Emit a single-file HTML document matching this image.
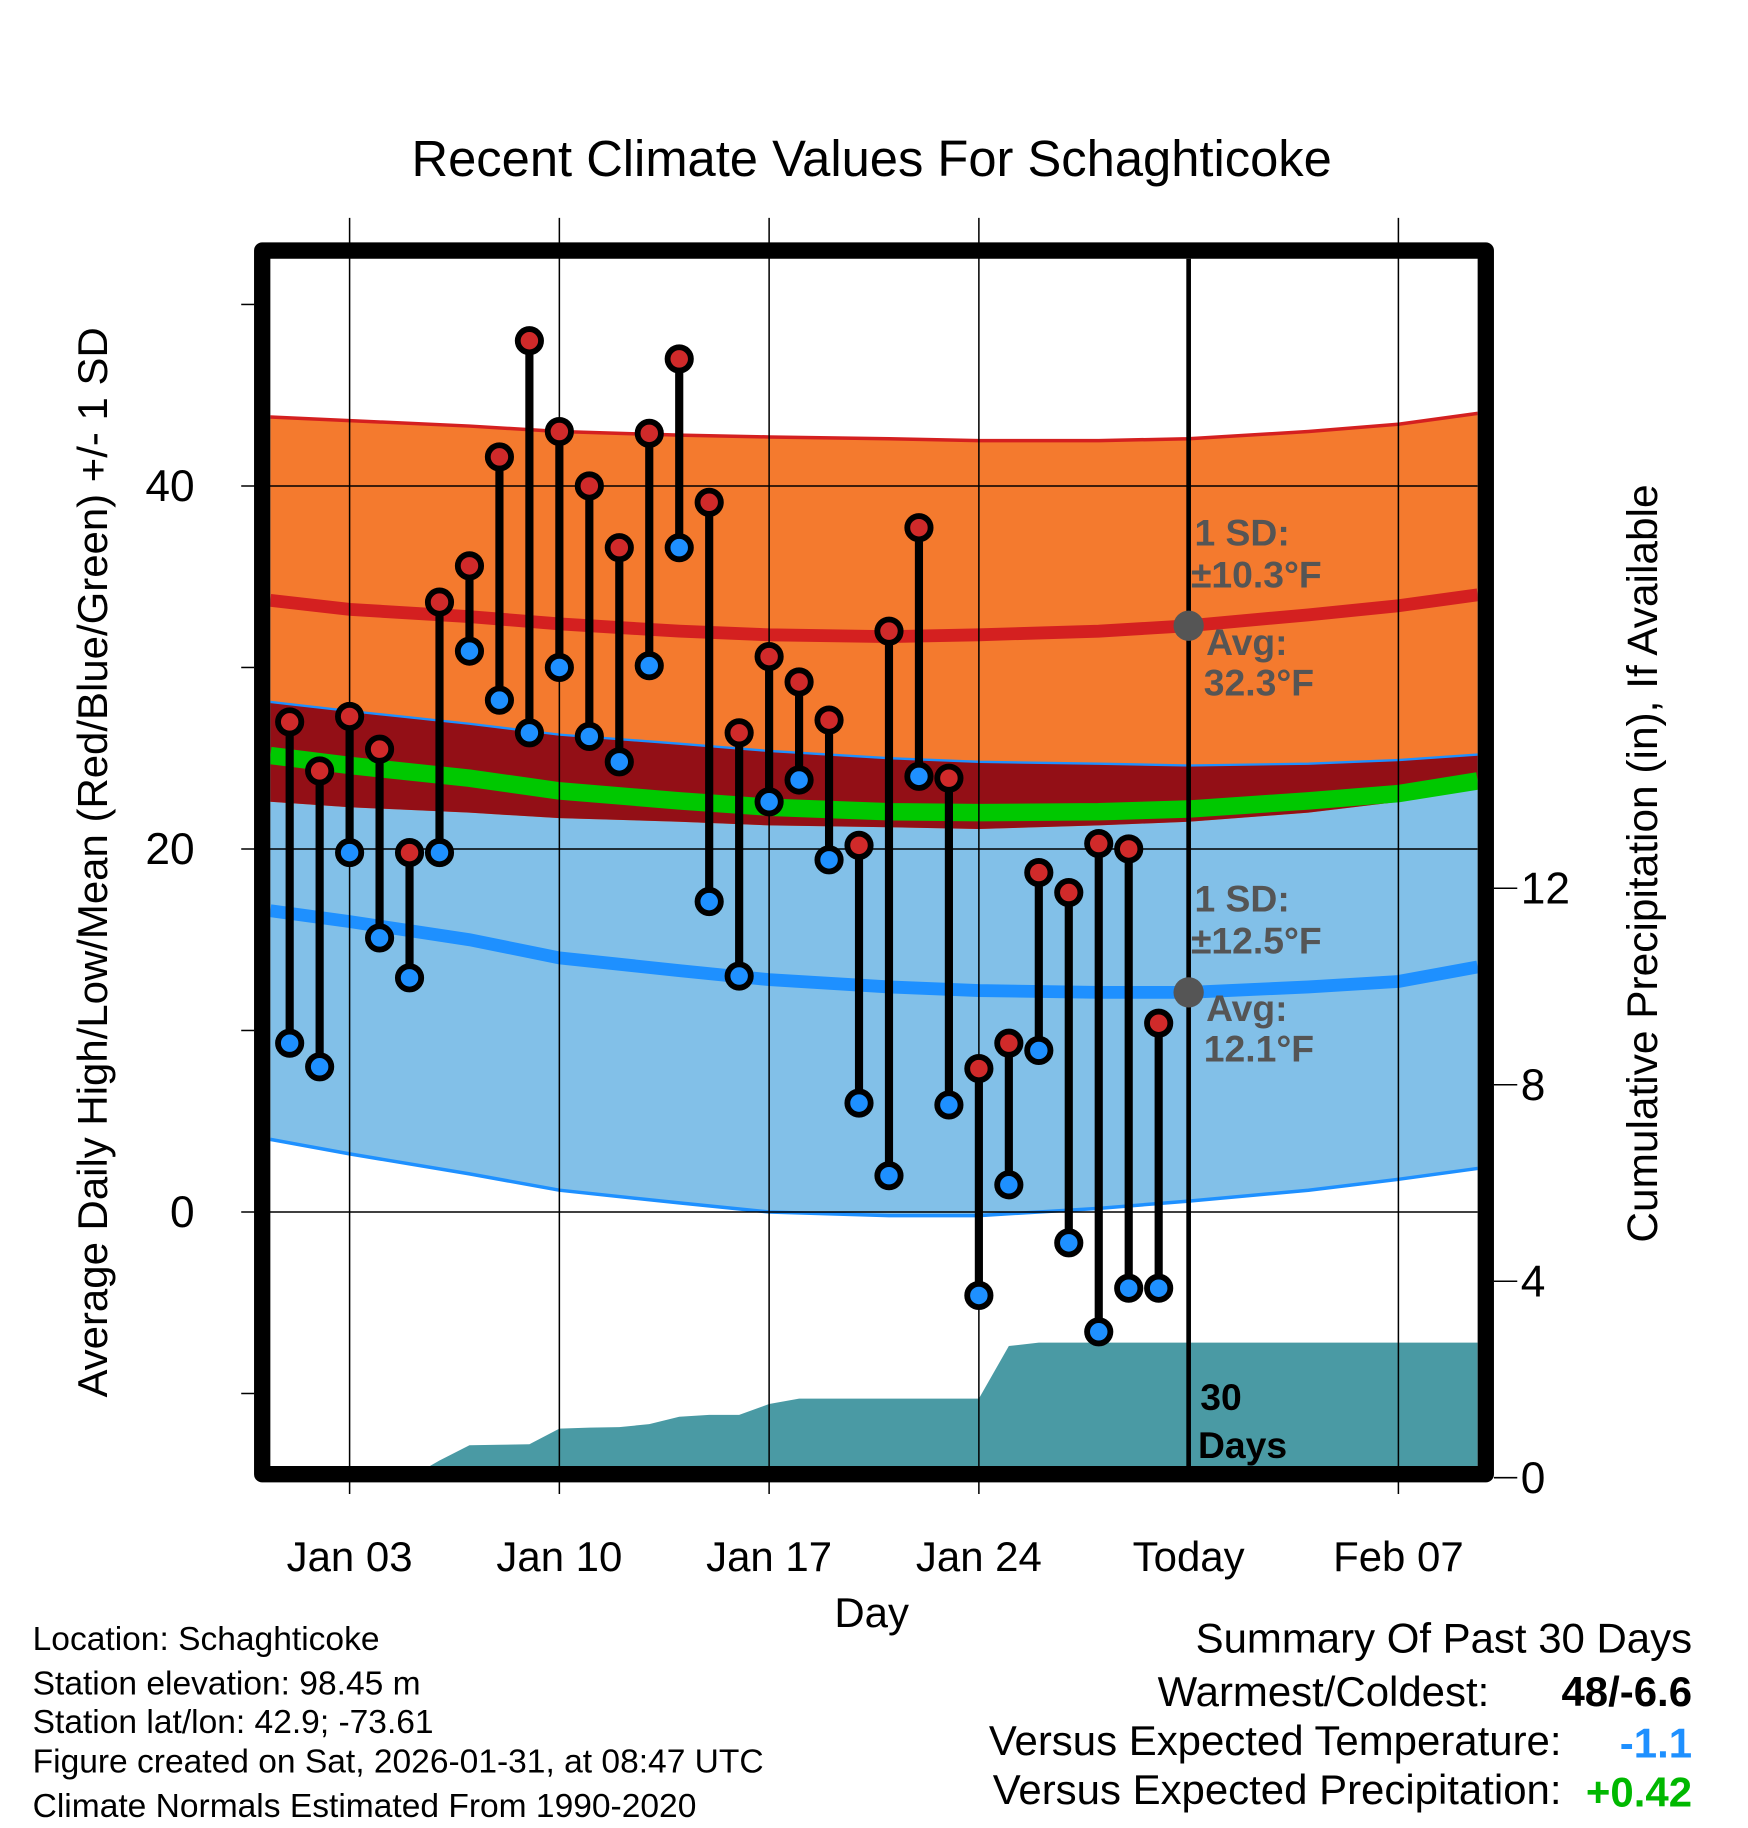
<!DOCTYPE html>
<html><head><meta charset="utf-8"><style>html,body{margin:0;padding:0;background:#fff}svg{display:block}</style></head>
<body>
<svg id="chart" width="1748" height="1828" viewBox="0 0 1500 1568.6" preserveAspectRatio="none" xmlns="http://www.w3.org/2000/svg" font-family="Liberation Sans, sans-serif">
<g id="layer"></g>
</svg>
<script>
// ---- data ----
const days = [1,2,3,4,5,6,7,8,9,10,11,12,13,14,15,16,17,18,19,20,21,22,23,24,25,26,27,28,29,30];
const highs = [27,24.3,27.3,25.5,19.8,33.6,35.6,41.6,48,43,40,36.6,42.9,47,39.1,26.4,30.6,29.2,27.1,20.2,32,37.7,23.9,7.9,9.3,18.7,17.6,20.3,20,10.4];
const lows = [9.3,8,19.8,15.1,12.9,19.8,30.9,28.2,26.4,30,26.2,24.8,30.1,36.6,17.1,13,22.6,23.8,19.4,6,2,24,5.9,-4.6,1.5,8.9,-1.7,-6.6,-4.2,-4.2];
const normDays = [0,3,7,10,14,17,21,24,28,31,35,38,41];
const normHigh = [33.7,33.2,32.8,32.4,32.0,31.8,31.7,31.8,32.0,32.3,32.9,33.4,34.0];
const highUpper = [43.8,43.6,43.3,43.0,42.8,42.7,42.6,42.5,42.5,42.6,43.0,43.4,44.0];
const highLower = [22.6,22.3,22.0,21.7,21.5,21.3,21.2,21.1,21.3,21.5,22.0,22.6,23.3];
const normLow = [16.6,16.0,15.0,14.0,13.3,12.8,12.4,12.2,12.1,12.1,12.4,12.7,13.5];
const lowUpper = [28.1,27.6,26.9,26.3,25.8,25.4,25.0,24.8,24.7,24.6,24.7,24.9,25.2];
const lowLower = [4.0,3.2,2.1,1.2,0.5,0.0,-0.2,-0.2,0.2,0.6,1.2,1.8,2.4];
const precipDays = [0,5,6,7,8,9,10,11,12,13,14,15,16,17,18,19,20,21,22,23,24,25,26,27,28,29,30,31,41];
const precipCum = [0,0,0.35,0.66,0.67,0.68,1.0,1.02,1.03,1.09,1.24,1.28,1.28,1.5,1.61,1.61,1.61,1.61,1.61,1.61,1.61,2.68,2.75,2.75,2.75,2.75,2.75,2.75,2.75];
const xTickDays = [3,10,17,24,31,38];
const xTickLabels = ["Jan 03","Jan 10","Jan 17","Jan 24","Today","Feb 07"];
const yTicks = [0,20,40];
const yMinor = [-10,10,30,50];
const pTicks = [0,4,8,12];

// ---- axes ----
const L=232,R=1268,T=222,B=1260;
const X = d => 300 + (d-3)*180/7;
const Y = v => 1040 - v*15.575;
const P = v => 1268 - v*42.15;
const NS="http://www.w3.org/2000/svg";
const g=document.getElementById('layer');
function el(tag,attrs,parent){const e=document.createElementNS(NS,tag);for(const k in attrs)e.setAttribute(k,attrs[k]);(parent||g).appendChild(e);return e;}
function txt(s,attrs){const e=el('text',attrs);e.textContent=s;return e;}
const cl=v=>Math.max(L,Math.min(R,v));
function line(arr){return normDays.map((d,i)=>cl(X(d))+','+Y(arr[i])).join(' ');}
function band(a,b){return normDays.map((d,i)=>cl(X(d))+','+Y(a[i])).concat(normDays.slice().reverse().map((d,i)=>cl(X(d))+','+Y(b[b.length-1-i]))).join(' ');}

el('defs',{}).innerHTML='<clipPath id="pc"><rect x="232" y="222" width="1036" height="1038"/></clipPath>';
const pg=el('g',{'clip-path':'url(#pc)'});

let e;
e=el('polygon',{points:band(lowUpper,lowLower),fill:'#82c0e8'},pg);

e=el('polygon',{points:band(highUpper,highLower),fill:'#f47a2e'},pg);

e=el('polygon',{points:band(lowUpper,highLower),fill:'#930f16'},pg);

const mean=normHigh.map((h,i)=>(h+normLow[i])/2);
e=el('polyline',{points:line(mean),fill:'none',stroke:'#00c800','stroke-width':15},pg);

el('polyline',{points:line(highUpper),fill:'none',stroke:'#d42020','stroke-width':3},pg);
el('polyline',{points:line(lowUpper),fill:'none',stroke:'#1e90ff','stroke-width':2},pg);
el('polyline',{points:line(lowLower),fill:'none',stroke:'#1e90ff','stroke-width':3},pg);
e=el('polyline',{points:line(normHigh),fill:'none',stroke:'#d42020','stroke-width':11},pg);

e=el('polyline',{points:line(normLow),fill:'none',stroke:'#1e90ff','stroke-width':11},pg);


// precipitation area
const pp=[cl(X(precipDays[0]))+','+P(0)].concat(precipDays.map((d,i)=>cl(X(d))+','+P(precipCum[i]))).concat([R+','+P(0)]).join(' ');
e=el('polygon',{points:pp,fill:'#4a9aa4'},pg);


// grid
xTickDays.forEach(d=>{if(d!==31)el('line',{x1:X(d),x2:X(d),y1:187,y2:1282,stroke:'#000','stroke-width':1.3});});
yTicks.forEach(v=>el('line',{x1:207,x2:R,y1:Y(v),y2:Y(v),stroke:'#000','stroke-width':1.3}));
yMinor.forEach(v=>el('line',{x1:207,x2:218,y1:Y(v),y2:Y(v),stroke:'#000','stroke-width':1.3}));
pTicks.forEach(v=>el('line',{x1:1282,x2:1302,y1:P(v),y2:P(v),stroke:'#000','stroke-width':1.3}));
e=el('line',{x1:X(31),x2:X(31),y1:T,y2:B,stroke:'#000','stroke-width':4});


// stems & markers
days.forEach((d,i)=>{
  const x=X(d);
  el('line',{x1:x,x2:x,y1:Y(highs[i]),y2:Y(lows[i]),stroke:'#000','stroke-width':7});
});
days.forEach((d,i)=>{
  const x=X(d);
  let c=el('circle',{cx:x,cy:Y(highs[i]),r:10,fill:'#d02a2a',stroke:'#000','stroke-width':5});
  
  
  c=el('circle',{cx:x,cy:Y(lows[i]),r:10,fill:'#1e90ff',stroke:'#000','stroke-width':5});
  
  
});

// annotations
el('circle',{cx:X(31),cy:Y(normHigh[9]),r:13,fill:'#555'});
el('circle',{cx:X(31),cy:Y(normLow[9]),r:13,fill:'#555'});
const an={fill:'#555','font-size':32,'font-weight':'bold'};
[["1 SD:",1025,468],["±10.3°F",1022,504],["Avg:",1035,562],["32.3°F",1033,597],["1 SD:",1025,782],["±12.5°F",1022,818],["Avg:",1035,876],["12.1°F",1033,911]].forEach(a=>{
  e=txt(a[0],Object.assign({x:a[1],y:a[2]},an));
  
});
txt("30",{x:1030,y:1210,'font-size':32,'font-weight':'bold'});
txt("Days",{x:1028,y:1251,'font-size':32,'font-weight':'bold'});

// frame
e=el('rect',{x:225,y:215,width:1050,height:1050,fill:'none',stroke:'#000','stroke-width':14,'stroke-linejoin':'round'});


// tick labels
xTickDays.forEach((d,i)=>{e=txt(xTickLabels[i],{x:X(d),y:1348,'font-size':36,'text-anchor':'middle'});
});
yTicks.forEach(v=>{e=txt(String(v),{x:167,y:Y(v)+13,'font-size':38,'text-anchor':'end'});
});
pTicks.forEach(v=>{e=txt(String(v),{x:1305,y:P(v)+13,'font-size':38});
});

e=txt("Recent Climate Values For Schaghticoke",{x:748,y:151,'font-size':43.5,'text-anchor':'middle'});

e=txt("Average Daily High/Low/Mean (Red/Blue/Green) +/- 1 SD",{x:0,y:0,'font-size':36,'text-anchor':'middle',transform:'translate(92,740) rotate(-90)'});

e=txt("Cumulative Precipitation (in), If Available",{x:0,y:0,'font-size':36.4,'text-anchor':'middle',transform:'translate(1422,741) rotate(-90)'});

e=txt("Day",{x:748,y:1396,'font-size':36,'text-anchor':'middle'});


[["Location: Schaghticoke",1416],["Station elevation: 98.45 m",1454],["Station lat/lon: 42.9; -73.61",1487],["Figure created on Sat, 2026-01-31, at 08:47 UTC",1521],["Climate Normals Estimated From 1990-2020",1559]].forEach(a=>{
  e=txt(a[0],{x:28,y:a[1],'font-size':28.8});
  
});
e=txt("Summary Of Past 30 Days",{x:1452,y:1418,'font-size':36,'text-anchor':'end'});

txt("Warmest/Coldest:",{x:1278,y:1464,'font-size':36,'text-anchor':'end'});
txt("48/-6.6",{x:1452,y:1464,'font-size':36,'font-weight':'bold','text-anchor':'end'});
txt("Versus Expected Temperature:",{x:1340,y:1506,'font-size':36,'text-anchor':'end'});
txt("-1.1",{x:1452,y:1508,'font-size':36,'font-weight':'bold','text-anchor':'end',fill:'#1e90ff'});
txt("Versus Expected Precipitation:",{x:1340,y:1548,'font-size':36,'text-anchor':'end'});
txt("+0.42",{x:1452,y:1550,'font-size':36,'font-weight':'bold','text-anchor':'end',fill:'#00b800'});
</script>
</body></html>
